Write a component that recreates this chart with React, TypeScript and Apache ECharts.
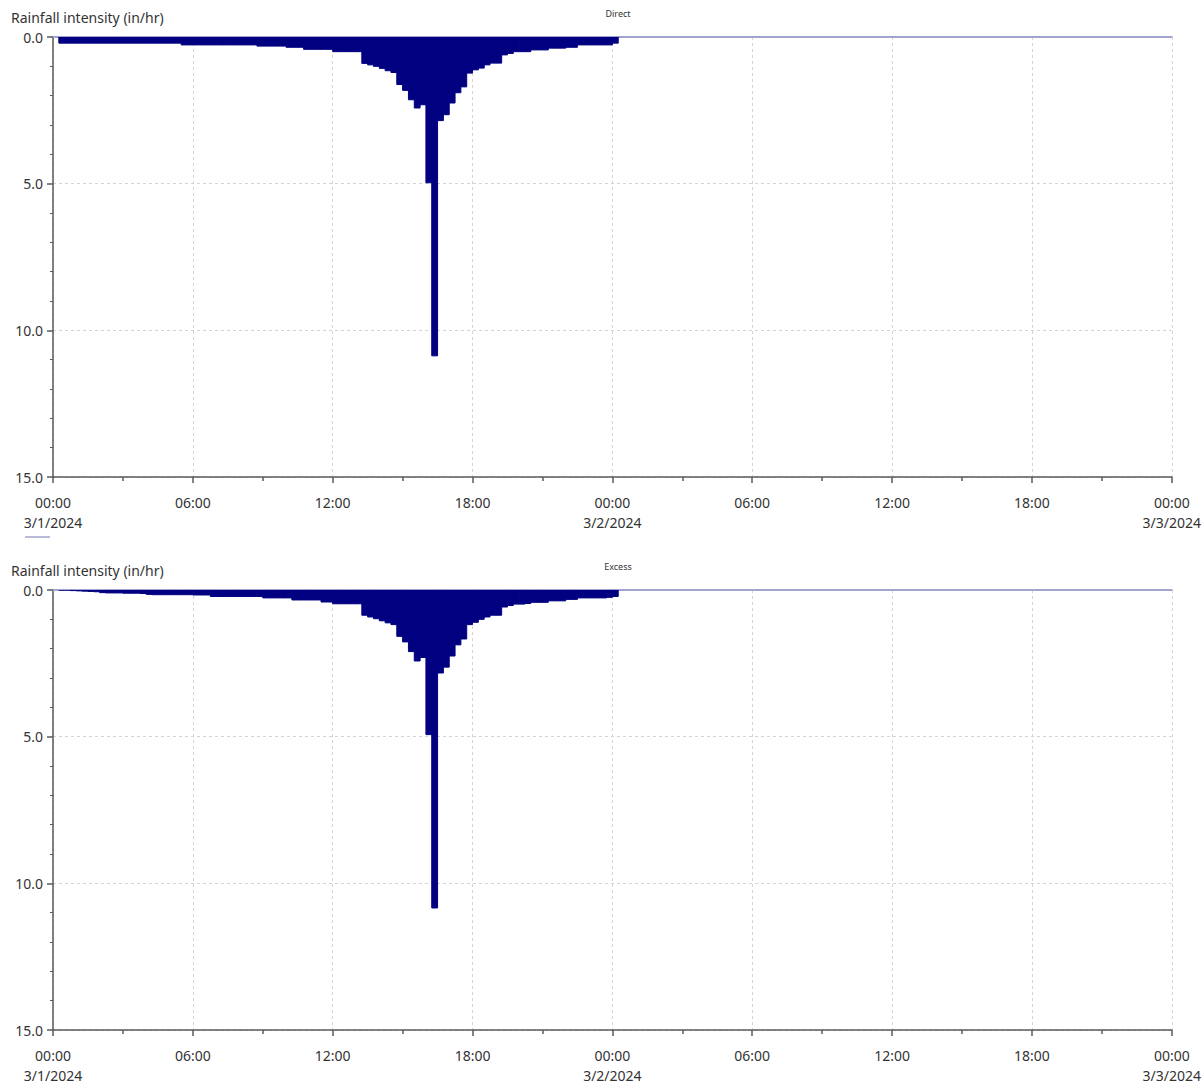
import React, { useEffect, useRef } from "react";
import * as echarts from "echarts";

// ---- Data ----
const panelTitles = ["Direct", "Excess"];
const yAxisTitle = "Rainfall intensity (in/hr)";
const dateLabels = ["3/1/2024", "3/2/2024", "3/3/2024"];
const yTickValues = [0, 5, 10, 15];
const firstIntervalStartHr = 0.25;
const intervalHr = 0.25;

// Direct rainfall intensity (in/hr), 15-minute intervals
const directValues = [
  0.21, 0.21, 0.21, 0.21, 0.21, 0.21, 0.21, 0.21, 0.21, 0.21, 0.21, 0.21, 0.21, 0.21, 0.21, 0.21, 0.21, 0.21, 0.21, 0.21, 0.21,
  0.27, 0.27, 0.27, 0.27, 0.27, 0.27, 0.27, 0.27, 0.27, 0.27, 0.27, 0.27, 0.27,
  0.31, 0.31, 0.31, 0.31, 0.31,
  0.35, 0.35, 0.35,
  0.42, 0.42, 0.42, 0.42, 0.42,
  0.5, 0.5, 0.5, 0.5, 0.5,
  0.9, 0.95, 1.0, 1.07, 1.15, 1.21,
  1.62, 1.82, 2.14, 2.42, 2.31, 4.97, 10.87,
  2.85, 2.65, 2.25, 1.9, 1.7, 1.23, 1.12, 1.06, 0.95, 0.89, 0.89,
  0.61, 0.56, 0.5, 0.5, 0.5, 0.44, 0.44, 0.44, 0.38, 0.38, 0.38, 0.35, 0.35, 0.27, 0.27, 0.27, 0.27, 0.27, 0.27, 0.21,
];

// Excess rainfall intensity (in/hr), 15-minute intervals
const excessValues = [
  0, 0,
  0.02, 0.03, 0.04, 0.05, 0.06,
  0.09, 0.1, 0.1, 0.1, 0.11, 0.11, 0.11, 0.12,
  0.15, 0.16, 0.16, 0.16, 0.16, 0.16, 0.16, 0.16, 0.17, 0.17, 0.17,
  0.22, 0.22, 0.22, 0.22, 0.22, 0.22, 0.22, 0.22, 0.22,
  0.27, 0.27, 0.27, 0.27, 0.27,
  0.34, 0.34, 0.34, 0.34, 0.34,
  0.41, 0.41,
  0.47, 0.47, 0.47, 0.47, 0.47,
  0.86, 0.92, 0.98, 1.05, 1.12, 1.18,
  1.58, 1.77, 2.1, 2.42, 2.3, 4.93, 10.84,
  2.83, 2.63, 2.25, 1.87, 1.67, 1.18, 1.1, 1.0, 0.92, 0.86, 0.86,
  0.58, 0.53, 0.48, 0.48, 0.46, 0.42, 0.42, 0.42, 0.37, 0.37, 0.37, 0.32, 0.32, 0.27, 0.27, 0.27, 0.27, 0.27, 0.25, 0.22,
];

const FONT = "'Noto Sans', 'Open Sans', sans-serif";
const NAVY = "#000080";
const LAVENDER = "#a3a3cf";
const AXIS = "#5a5a5a";
const GRIDLINE = "#d4d4d4";

function toIntervals(values: number[]) {
  return values.map((v, i) => {
    const s = firstIntervalStartHr + i * intervalHr;
    return [s, s + intervalHr, v];
  });
}

function xLabel(v: number) {
  const h = ((v % 24) + 24) % 24;
  const hh = String(Math.round(h)).padStart(2, "0") + ":00";
  if (Math.abs(h) < 1e-6) {
    const d = dateLabels[Math.round(v / 24)];
    return hh + "\n" + (d || "");
  }
  return hh;
}

export default function App() {
  const ref = useRef<HTMLDivElement>(null);
  useEffect(() => {
    if (!ref.current) return;
    const chart = echarts.init(ref.current, undefined, { renderer: "svg" });
    const grids = [
      { left: 53, right: 32, top: 37, height: 440 },
      { left: 53, right: 32, top: 590, height: 440 },
    ];
    const xAxes: any[] = [];
    const yAxes: any[] = [];
    const series: any[] = [];
    const seriesData = [directValues, excessValues];
    grids.forEach((g, gi) => {
      xAxes.push({
        type: "value",
        gridIndex: gi,
        min: 0,
        max: 48,
        interval: 6,
        position: "bottom",
        axisLine: { show: true, onZero: false, lineStyle: { color: AXIS, width: 1.5 } },
        axisTick: { show: true, length: 6, lineStyle: { color: AXIS, width: 1.5 } },
        minorTick: { show: true, splitNumber: 2, length: 4, lineStyle: { color: AXIS, width: 1.5 } },
        axisLabel: {
          show: true,
          margin: 15,
          fontFamily: FONT,
          fontSize: 14,
          color: "#333",
          lineHeight: 20,
          showMinLabel: true,
          showMaxLabel: true,
          formatter: xLabel,
        },
        splitLine: { show: true, lineStyle: { color: GRIDLINE, type: [3, 3], width: 1 } },
      });
      xAxes.push({
        type: "value",
        gridIndex: gi,
        min: 0,
        max: 48,
        position: "top",
        axisLine: { show: true, onZero: false, lineStyle: { color: LAVENDER, width: 2 } },
        axisTick: { show: false },
        axisLabel: { show: false },
        splitLine: { show: false },
      });
      yAxes.push({
        type: "value",
        gridIndex: gi,
        inverse: true,
        min: yTickValues[0],
        max: yTickValues[yTickValues.length - 1],
        interval: 5,
        axisLine: { show: true, lineStyle: { color: AXIS, width: 1.5 } },
        axisTick: { show: true, length: 6, lineStyle: { color: AXIS, width: 1.5 } },
        minorTick: { show: true, splitNumber: 5, length: 3, lineStyle: { color: AXIS, width: 1 } },
        axisLabel: {
          margin: 10,
          fontFamily: FONT,
          fontSize: 14,
          color: "#333",
          formatter: (v: number) => v.toFixed(1),
        },
        splitLine: { show: true, lineStyle: { color: GRIDLINE, type: [3, 3], width: 1 } },
      });
      series.push({
        type: "custom",
        xAxisIndex: gi * 2,
        yAxisIndex: gi,
        data: toIntervals(seriesData[gi]),
        clip: true,
        renderItem: (params: any, api: any) => {
          const s = api.coord([api.value(0), 0]);
          const e = api.coord([api.value(1), api.value(2)]);
          return {
            type: "rect",
            shape: { x: s[0], y: s[1], width: e[0] - s[0], height: e[1] - s[1] },
            style: { fill: NAVY, stroke: NAVY, lineWidth: 1 },
          };
        },
      });
    });

    chart.setOption({
      animation: false,
      backgroundColor: "#ffffff",
      title: [
        {
          text: panelTitles[0],
          left: 613,
          top: 4,
          textAlign: "center",
          textStyle: { fontFamily: FONT, fontSize: 9, fontWeight: "normal", color: "#333" },
        },
        {
          text: panelTitles[1],
          left: 613,
          top: 557,
          textAlign: "center",
          textStyle: { fontFamily: FONT, fontSize: 9, fontWeight: "normal", color: "#333" },
        },
      ],
      graphic: [
        {
          type: "text",
          left: 11,
          top: 10,
          style: { text: yAxisTitle, fontFamily: FONT, fontSize: 14, fill: "#333" },
        },
        {
          type: "text",
          left: 11,
          top: 563,
          style: { text: yAxisTitle, fontFamily: FONT, fontSize: 14, fill: "#333" },
        },
        {
          type: "line",
          shape: { x1: 25, y1: 537, x2: 50, y2: 537 },
          style: { stroke: LAVENDER, lineWidth: 1.5 },
        },
      ],
      grid: grids,
      xAxis: xAxes,
      yAxis: yAxes,
      series,
    });
    return () => chart.dispose();
  }, []);
  return (
    <div
      ref={ref}
      style={{ position: "absolute", left: 0, top: 0, width: 1204, height: 1087, background: "#fff" }}
    />
  );
}
